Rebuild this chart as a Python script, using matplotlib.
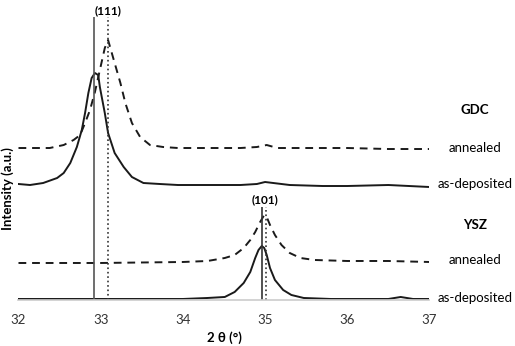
import numpy as np
import matplotlib
matplotlib.use("Agg")
import matplotlib.pyplot as plt

plt.rcParams['font.family'] = ['Lato', 'DejaVu Sans']

# GDC, as-deposited (solid)
gdc_dep_x = [32.00, 32.14, 32.30, 32.47, 32.55, 32.63, 32.71, 32.77, 32.81, 32.85, 32.89,
             32.93, 32.97, 32.99, 33.05, 33.09, 33.17, 33.28, 33.38, 33.52, 33.72, 33.94,
             34.30, 34.70, 34.90, 35.00, 35.10, 35.30, 35.70, 36.00, 36.50, 37.00]
gdc_dep_y = [116, 115, 117, 122, 127, 137, 153, 170, 187, 207, 222,
             227, 225, 213, 187, 167, 147, 133, 123, 117, 116, 115,
             115, 115, 116, 118, 117, 115, 114, 114, 115, 113]

# GDC, annealed (dashed)
gdc_ann_x = [32.00, 32.14, 32.38, 32.55, 32.67, 32.75, 32.81, 32.87, 32.93, 32.99, 33.05,
             33.09, 33.17, 33.24, 33.30, 33.38, 33.48, 33.60, 33.76, 33.94, 34.30, 34.70,
             34.90, 35.02, 35.15, 35.50, 36.00, 36.50, 37.00]
gdc_ann_y = [152, 152, 152, 155, 160, 165, 177, 190, 208, 230, 252,
             260, 237, 217, 197, 177, 163, 155, 153, 152, 152, 152,
             153, 155, 152, 152, 152, 151, 151]

# YSZ, annealed (dashed)
ysz_ann_x = [32.00, 33.00, 34.00, 34.30, 34.51, 34.63, 34.74, 34.82, 34.88, 34.94, 34.99,
             35.02, 35.06, 35.12, 35.20, 35.30, 35.43, 35.60, 36.00, 36.50, 37.00]
ysz_ann_y = [37, 37, 38, 39, 42, 45, 52, 60, 68, 78, 85,
             83, 75, 65, 55, 47, 42, 40, 39, 39, 38]

# YSZ, as-deposited (solid)
ysz_dep_x = [32.00, 33.00, 34.00, 34.30, 34.51, 34.63, 34.74, 34.82, 34.88, 34.92, 34.96,
             34.99, 35.02, 35.06, 35.12, 35.22, 35.32, 35.47, 35.80, 36.00, 36.50, 36.65,
             36.80, 37.00]
ysz_dep_y = [1, 1, 1, 2, 3, 8, 17, 28, 42, 50, 54,
             52, 45, 32, 20, 10, 5, 2, 1, 1, 1, 3,
             1, 1]

# reference peak positions
gdc_peaks = [32.915, 33.085]
ysz_peaks = [34.965, 35.015]
peak_styles = ['-', ':']

fig = plt.figure(figsize=(5.15, 3.46), dpi=100)
ax = fig.add_axes([0.0359, 0.133, 0.798, 0.838])

ink = '#1a1a1a'
ax.plot(gdc_dep_x, gdc_dep_y, color=ink, lw=1.4)
ax.plot(gdc_ann_x, gdc_ann_y, color=ink, lw=1.4, linestyle=(0, (4, 3)))
ax.plot(ysz_ann_x, ysz_ann_y, color=ink, lw=1.4, linestyle=(0, (4, 3)))
ax.plot(ysz_dep_x, ysz_dep_y, color=ink, lw=1.4)

for p, ls in zip(gdc_peaks, peak_styles):
    ax.vlines(p, 0, 283, colors='#555555' if ls == '-' else '#333333', lw=1.2, linestyles=ls)
for p, ls in zip(ysz_peaks, peak_styles):
    ax.vlines(p, 0, 93, colors='#333333', lw=1.2, linestyles=ls)

ax.text(33.085, 289, '(111)', ha='center', va='center', fontsize=8.5, fontweight='bold')
ax.text(35.0, 100, '(101)', ha='center', va='center', fontsize=8.5, fontweight='bold')

ax.set_xlim(32, 37)
ax.set_ylim(0, 290)
ax.set_xticks([32, 33, 34, 35, 36, 37])
ax.set_yticks([])
ax.tick_params(axis='x', length=0, labelsize=9.5, pad=10, colors='#333333')
for s in ['top', 'right', 'left']:
    ax.spines[s].set_visible(False)
ax.spines['bottom'].set_color('#cccccc')
ax.spines['bottom'].set_linewidth(1.2)

ax.set_xlabel('2 θ (°)', fontsize=9.5, fontweight='bold', labelpad=4)
fig.text(0.014, 0.455, 'Intensity (a.u.)', rotation=90, ha='center', va='center',
         fontsize=9.5, fontweight='bold')

labels = [('GDC', 190, True), ('annealed', 152, False), ('as-deposited', 116, False),
          ('YSZ', 75, True), ('annealed', 40, False), ('as-deposited', 2, False)]
for txt, yv, bold in labels:
    ax.text(37.55, yv, txt, ha='center', va='center', fontsize=9.5,
            fontweight='bold' if bold else 'normal', clip_on=False)

fig.savefig('out.png', dpi=100)
